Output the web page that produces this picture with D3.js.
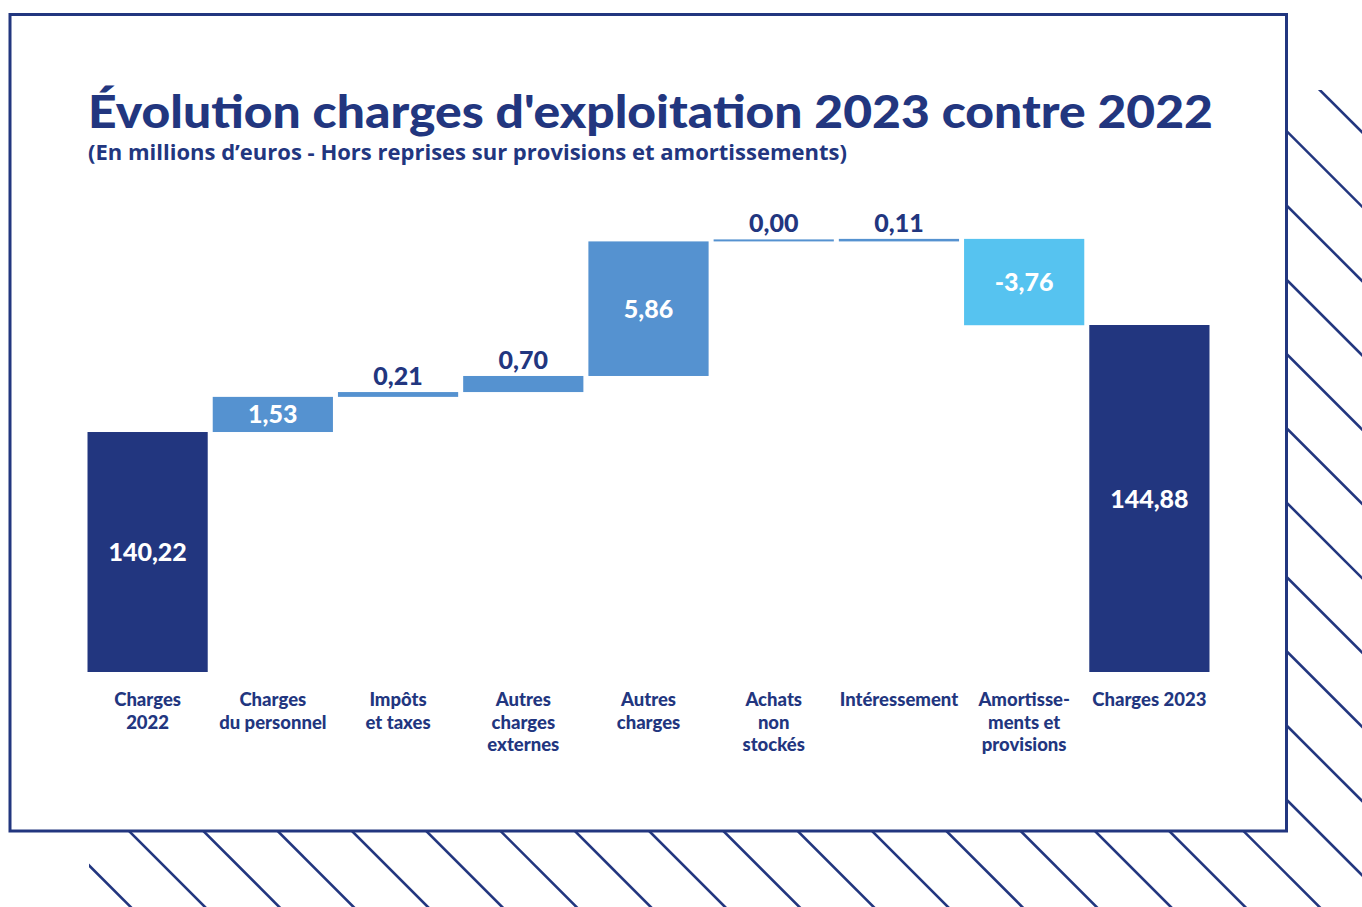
<!DOCTYPE html>
<html>
<head>
<meta charset="utf-8">
<script src="https://cdn.jsdelivr.net/npm/d3@7/dist/d3.min.js"></script>
<style>
  html, body { margin: 0; padding: 0; background: #ffffff; }
  svg { display: block; }
</style>
</head>
<body>
<svg id="chart" width="1362" height="907"></svg>
<script>
// ---------- DATA ----------
const titleText = "Évolution charges d'exploitation 2023 contre 2022";
const subtitleText = "(En millions d\u2019euros - Hors reprises sur provisions et amortissements)";
const categories = ["Charges 2022", "Charges du personnel", "Impôts et taxes", "Autres charges externes",
  "Autres charges", "Achats non stockés", "Intéressement", "Amortissements et provisions", "Charges 2023"];
const categoryLines = [
  ["Charges", "2022"],
  ["Charges", "du personnel"],
  ["Impôts", "et taxes"],
  ["Autres", "charges", "externes"],
  ["Autres", "charges"],
  ["Achats", "non", "stockés"],
  ["Intéressement"],
  ["Amortisse-", "ments et", "provisions"],
  ["Charges 2023"]
];
const values = [140.22, 1.53, 0.21, 0.70, 5.86, 0.00, 0.11, -3.76, 144.88];
const kinds = ["total", "delta", "delta", "delta", "delta", "delta", "delta", "delta", "total"];

// ---------- STYLE ----------
const NAVY = "#22367f";
const MID = "#5592d0";
const LIGHT = "#56c3f0";

const svg = d3.select("#chart");

// background hatch
const hatch = svg.append("g");
hatch.append("clipPath").attr("id", "hclip")
  .append("rect").attr("x", 89).attr("y", 90).attr("width", 1362 - 89).attr("height", 907 - 90);
const hg = hatch.append("g").attr("clip-path", "url(#hclip)");
d3.range(-12, 30).forEach(k => {
  const c = -702 + 74.3 * k; // x - y = c
  hg.append("line")
    .attr("x1", c + 0).attr("y1", 0)
    .attr("x2", c + 1000).attr("y2", 1000)
    .attr("stroke", NAVY).attr("stroke-width", 2.6);
});

// white framed box
svg.append("rect")
  .attr("x", 10).attr("y", 14.5).attr("width", 1276.5).attr("height", 816.5)
  .attr("fill", "#ffffff").attr("stroke", NAVY).attr("stroke-width", 3);

// title
svg.append("text")
  .attr("x", 88).attr("y", 128)
  .attr("font-family", "Lato, 'Noto Sans', sans-serif")
  .attr("font-weight", 900).attr("font-size", 46)
  .attr("fill", NAVY)
  .attr("textLength", 1125).attr("lengthAdjust", "spacingAndGlyphs")
  .text(titleText);

svg.append("text")
  .attr("x", 88).attr("y", 160)
  .attr("font-family", "'Open Sans', 'Noto Sans', sans-serif")
  .attr("font-weight", 700).attr("font-size", 21)
  .attr("fill", NAVY)
  .attr("textLength", 759).attr("lengthAdjust", "spacingAndGlyphs")
  .text(subtitleText);

// ---------- SCALES ----------
const x = d3.scaleBand().domain(categories).range([85, 1212]).paddingInner(0.04).paddingOuter(0.02);
const y = d3.scaleLinear().domain([129.77, 144.88]).range([672, 325]);
const base = 129.77;

// waterfall computation
let running = 0;
const bars = values.map((v, i) => {
  let y0, y1;
  if (kinds[i] === "total") { y0 = base; y1 = v; running = v; }
  else { y0 = running; y1 = running + v; running = y1; }
  return { cat: categories[i], lines: categoryLines[i], v, kind: kinds[i], lo: Math.min(y0, y1), hi: Math.max(y0, y1) };
});

const fmt = d3.formatLocale({ decimal: ",", thousands: " ", grouping: [3], currency: ["", "€"], minus: "-" }).format(".2f");

const color = d => d.kind === "total" ? NAVY : (d.v < 0 ? LIGHT : MID);

const g = svg.append("g");
g.selectAll("rect.bar").data(bars).join("rect")
  .attr("class", "bar")
  .attr("x", d => x(d.cat))
  .attr("width", x.bandwidth())
  .attr("y", d => {
    const h = y(d.lo) - y(d.hi);
    return h < 2 ? y(d.hi) - (2 - h) : y(d.hi);
  })
  .attr("height", d => Math.max(2, y(d.lo) - y(d.hi)))
  .attr("fill", color);

// value labels
g.selectAll("text.val").data(bars).join("text")
  .attr("class", "val")
  .attr("x", d => x(d.cat) + x.bandwidth() / 2)
  .attr("y", d => {
    const h = y(d.lo) - y(d.hi);
    if (h > 25) return (y(d.lo) + y(d.hi)) / 2;
    return y(d.hi) - Math.max(2 - h, 0) - 16;
  })
  .attr("dy", "0.36em")
  .attr("text-anchor", "middle")
  .attr("font-family", "Lato, 'Noto Sans', sans-serif")
  .attr("font-weight", 900).attr("font-size", 25)
  .attr("fill", d => (y(d.lo) - y(d.hi)) > 25 ? "#ffffff" : NAVY)
  .text(d => fmt(d.v));

// category labels
const cl = g.selectAll("text.cat").data(bars).join("text")
  .attr("class", "cat")
  .attr("text-anchor", "middle")
  .attr("font-family", "Lato, 'Noto Sans', sans-serif")
  .attr("font-weight", 900).attr("font-size", 18.5)
  .attr("fill", NAVY);
cl.each(function(d) {
  const t = d3.select(this);
  d.lines.forEach((ln, j) => {
    t.append("tspan")
      .attr("x", x(d.cat) + x.bandwidth() / 2)
      .attr("y", 706 + j * 22.5)
      .text(ln);
  });
});
</script>
</body>
</html>
